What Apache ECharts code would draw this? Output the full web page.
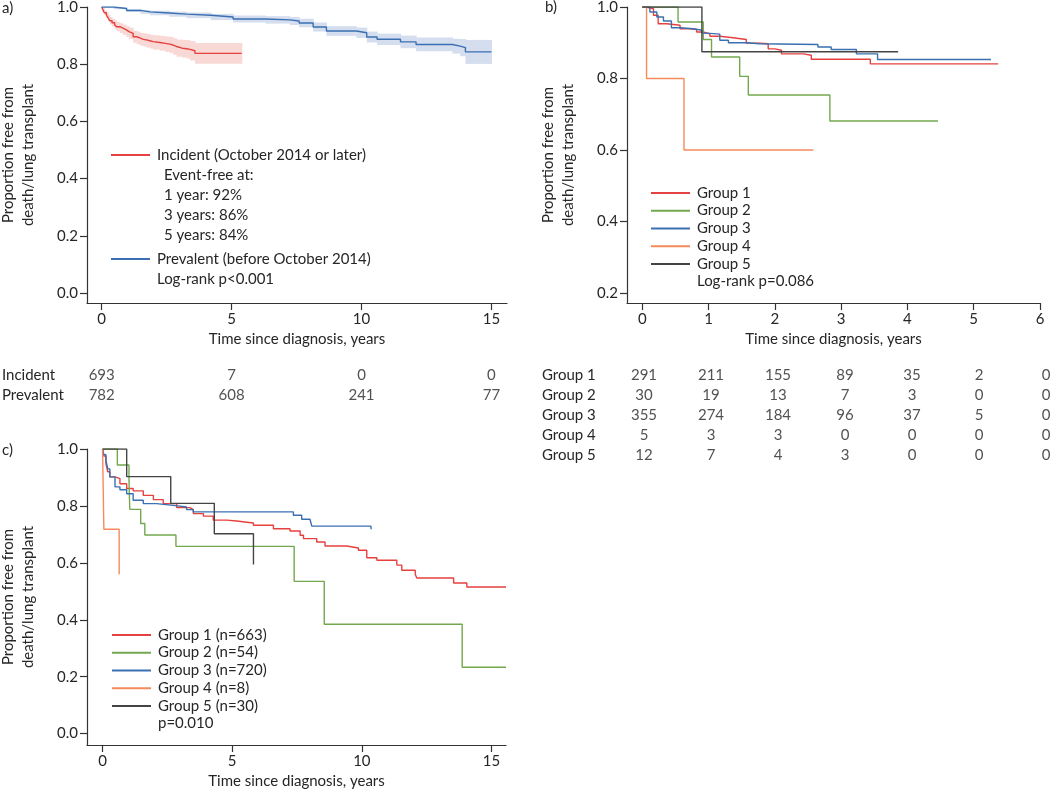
<!DOCTYPE html>
<html><head><meta charset="utf-8">
<script src="https://cdn.jsdelivr.net/npm/echarts@6/dist/echarts.min.js"></script>
<style>html,body{margin:0;padding:0;background:#fff}#c{width:1050px;height:792px}</style>
</head><body><div id="c"></div>
<script>
// ---------- Panel a: incident vs prevalent ----------
var incT  = [0, 0.05, 0.1, 0.18, 0.25, 0.31, 0.4, 0.5, 0.57, 0.7, 0.82, 0.95, 1.05, 1.21, 1.35, 1.47, 1.6, 1.72, 1.85, 1.98, 2.24, 2.45, 2.62, 2.75, 2.88, 3.1, 3.27, 3.4, 3.59, 5.39];
var incS  = [1.0, 0.99, 0.98, 0.972, 0.962, 0.952, 0.945, 0.938, 0.931, 0.926, 0.92, 0.914, 0.908, 0.896, 0.892, 0.887, 0.885, 0.882, 0.879, 0.876, 0.873, 0.87, 0.867, 0.862, 0.856, 0.854, 0.852, 0.847, 0.838, 0.838];
var incLo = [1.0, 0.984, 0.972, 0.962, 0.95, 0.939, 0.931, 0.923, 0.915, 0.909, 0.902, 0.895, 0.888, 0.875, 0.87, 0.865, 0.862, 0.858, 0.855, 0.851, 0.847, 0.843, 0.839, 0.833, 0.826, 0.823, 0.82, 0.813, 0.802, 0.802];
var incHi = [1.0, 0.996, 0.988, 0.982, 0.974, 0.965, 0.959, 0.953, 0.947, 0.943, 0.938, 0.933, 0.928, 0.917, 0.914, 0.909, 0.908, 0.906, 0.903, 0.901, 0.899, 0.897, 0.895, 0.891, 0.886, 0.885, 0.884, 0.881, 0.874, 0.874];

var prevT  = [0, 0.45, 0.96, 1.5, 1.86, 2.6, 3.27, 4.2, 5.06, 6.3, 7.24, 7.6, 8.14, 8.65, 9.8, 10.2, 10.6, 11.5, 12.1, 13.5, 13.8, 14.0, 15.0];
var prevS  = [1.0, 0.995, 0.988, 0.983, 0.979, 0.975, 0.971, 0.965, 0.958, 0.955, 0.951, 0.944, 0.93, 0.916, 0.91, 0.895, 0.887, 0.878, 0.869, 0.863, 0.858, 0.843, 0.843];
var prevLo = [1.0, 0.992, 0.983, 0.976, 0.971, 0.966, 0.961, 0.954, 0.946, 0.942, 0.937, 0.929, 0.914, 0.899, 0.892, 0.876, 0.867, 0.856, 0.845, 0.837, 0.828, 0.801, 0.801];
var prevHi = [1.0, 0.998, 0.993, 0.99, 0.987, 0.984, 0.981, 0.976, 0.97, 0.968, 0.965, 0.959, 0.946, 0.933, 0.928, 0.914, 0.907, 0.9, 0.893, 0.889, 0.888, 0.885, 0.885];

// ---------- Panel b: incident patients by group ----------
var b1T = [0, 0.06, 0.17, 0.24, 0.37, 0.47, 0.57, 0.72, 0.82, 0.92, 1.02, 1.17, 1.37, 1.57, 1.77, 1.9, 2.0, 2.1, 2.43, 2.55, 3.44, 5.37];
var b1S = [1.0, 0.995, 0.977, 0.953, 0.951, 0.949, 0.939, 0.937, 0.93, 0.925, 0.918, 0.914, 0.909, 0.899, 0.897, 0.883, 0.879, 0.869, 0.865, 0.854, 0.841, 0.841];
var b2T = [0, 0.54, 0.92, 1.045, 1.47, 1.6, 2.83, 4.46];
var b2S = [1.0, 0.958, 0.909, 0.86, 0.806, 0.754, 0.681, 0.681];
var b3T = [0, 0.115, 0.22, 0.32, 0.44, 0.57, 0.77, 0.9, 0.97, 1.17, 1.3, 1.57, 1.77, 2.65, 2.85, 3.23, 3.55, 5.26];
var b3S = [1.0, 0.986, 0.972, 0.961, 0.942, 0.939, 0.935, 0.927, 0.924, 0.907, 0.9, 0.897, 0.895, 0.888, 0.881, 0.869, 0.853, 0.853];
var b4T = [0, 0.065, 0.63, 2.58];
var b4S = [1.0, 0.8, 0.6, 0.6];
var b5T = [0, 0.9, 3.86];
var b5S = [1.0, 0.875, 0.875];

// ---------- Panel c: all patients by group ----------
var c1T = [0, 0.05, 0.13, 0.2, 0.28, 0.48, 0.67, 0.93, 1.18, 1.57, 1.96, 2.34, 2.86, 3.37, 3.5, 3.89, 4.27, 4.79, 5.17, 5.82, 6.59, 7.23, 7.62, 7.75, 8.26, 8.58, 9.42, 9.87, 10.19, 10.58, 11.35, 11.54, 12.06, 12.12, 13.54, 14.05, 15.56];
var c1S = [1.0, 0.975, 0.949, 0.92, 0.902, 0.896, 0.878, 0.861, 0.853, 0.837, 0.822, 0.808, 0.794, 0.787, 0.773, 0.764, 0.75, 0.747, 0.74, 0.732, 0.72, 0.712, 0.697, 0.685, 0.673, 0.659, 0.652, 0.644, 0.618, 0.609, 0.592, 0.574, 0.56, 0.547, 0.529, 0.515, 0.515];
var c2T = [0, 0.57, 1.02, 1.05, 1.47, 1.63, 2.83, 7.39, 8.55, 13.87, 15.56];
var c2S = [1.0, 0.944, 0.888, 0.788, 0.738, 0.698, 0.658, 0.535, 0.384, 0.233, 0.233];
var c3T = [0, 0.05, 0.13, 0.2, 0.28, 0.48, 0.67, 0.93, 1.18, 1.57, 2.08, 2.73, 3.24, 3.5, 7.36, 7.68, 8.0, 8.07, 10.35, 10.36];
var c3S = [1.0, 0.98, 0.96, 0.93, 0.902, 0.867, 0.857, 0.843, 0.82, 0.808, 0.802, 0.796, 0.787, 0.779, 0.767, 0.753, 0.747, 0.729, 0.729, 0.718];
var c4T = [0, 0.05, 0.64];
var c4S = [1.0, 0.718, 0.56];
var c5T = [0, 0.93, 2.63, 4.31, 5.82];
var c5S = [1.0, 0.903, 0.809, 0.702, 0.594];

// ---------- Names, ticks, risk tables ----------
var aNames = ['Incident (October 2014 or later)', 'Prevalent (before October 2014)'];
var bNames = ['Group 1', 'Group 2', 'Group 3', 'Group 4', 'Group 5'];
var cNames = ['Group 1 (n=663)', 'Group 2 (n=54)', 'Group 3 (n=720)', 'Group 4 (n=8)', 'Group 5 (n=30)'];
var aXTicks = [0, 5, 10, 15];
var bXTicks = [0, 1, 2, 3, 4, 5, 6];
var aYTicks = [0, 0.2, 0.4, 0.6, 0.8, 1.0];
var bYTicks = [0.2, 0.4, 0.6, 0.8, 1.0];
var aRiskRows = ['Incident', 'Prevalent'];
var aRiskInc  = [693, 7, 0, 0];
var aRiskPrev = [782, 608, 241, 77];
var bRiskRows = ['Group 1', 'Group 2', 'Group 3', 'Group 4', 'Group 5'];
var bRisk1 = [291, 211, 155, 89, 35, 2, 0];
var bRisk2 = [30, 19, 13, 7, 3, 0, 0];
var bRisk3 = [355, 274, 184, 96, 37, 5, 0];
var bRisk4 = [5, 3, 3, 0, 0, 0, 0];
var bRisk5 = [12, 7, 4, 3, 0, 0, 0];
var aNotes = ['Event-free at:', '1 year: 92%', '3 years: 86%', '5 years: 84%'];

var RED = '#e5413e', GREEN = '#73a84e', BLUE = '#3a70b2', ORANGE = '#f68a5c', BLACK = '#444444';
var PINK = '#f8d9d6', LBLUE = '#d5deee';
var FONT = 'Lato', FS = 15, TXT = '#262626', AX = '#333333';

function pts(T, S) { return T.map(function (t, i) { return [t, S[i]]; }); }
function km(name, T, S, idx, color) {
  return { type: 'line', name: name, xAxisIndex: idx, yAxisIndex: idx, step: 'end', symbol: 'none',
    data: pts(T, S), lineStyle: { color: color, width: 1.4 }, itemStyle: { color: color }, z: 3, silent: true };
}
// stepped confidence band: one rectangle per step interval [t_i, t_i+1] x [lo_i, hi_i]
function band(T, lo, hi, color) {
  var d = [];
  for (var i = 0; i < T.length - 1; i++) d.push([T[i], T[i + 1], lo[i], hi[i]]);
  return { type: 'custom', xAxisIndex: 0, yAxisIndex: 0, silent: true, z: 1, data: d,
    renderItem: function (params, api) {
      var p1 = api.coord([api.value(0), api.value(3)]);
      var p2 = api.coord([api.value(1), api.value(2)]);
      return { type: 'rect', shape: { x: p1[0], y: p1[1], width: p2[0] - p1[0] + 0.6, height: p2[1] - p1[1] },
        style: { fill: color } };
    } };
}
function xAx(idx, min, max, ticks, named) {
  return { type: 'value', gridIndex: idx, min: min, max: max,
    name: named ? 'Time since diagnosis, years' : '', nameLocation: 'middle', nameGap: 29,
    nameTextStyle: { fontFamily: FONT, fontSize: FS, color: TXT },
    axisLine: { show: true, onZero: false, lineStyle: { color: AX, width: 1.2 } },
    axisTick: { show: true, length: 7, customValues: ticks, lineStyle: { color: AX, width: 1.2 } },
    axisLabel: { customValues: ticks, margin: 9, fontFamily: FONT, fontSize: FS, color: TXT },
    splitLine: { show: false } };
}
function yAx(idx, min, max, ticks) {
  return { type: 'value', gridIndex: idx, min: min, max: max,
    name: 'Proportion free from\ndeath/lung transplant', nameLocation: 'middle', nameRotate: 90, nameGap: 49,
    nameTextStyle: { fontFamily: FONT, fontSize: FS, color: TXT, lineHeight: 20 },
    axisLine: { show: true, onZero: false, lineStyle: { color: AX, width: 1.2 } },
    axisTick: { show: true, length: 7, customValues: ticks, lineStyle: { color: AX, width: 1.2 } },
    axisLabel: { customValues: ticks, margin: 9, fontFamily: FONT, fontSize: FS, color: TXT,
      formatter: function (v) { return v.toFixed(1); } },
    splitLine: { show: false } };
}
function riskX(idx, min, max) {
  return { type: 'value', gridIndex: idx, min: min, max: max, show: false };
}
function riskY(idx, rows) {
  return { type: 'category', gridIndex: idx, data: rows, inverse: true,
    axisLine: { show: false }, axisTick: { show: false }, splitLine: { show: false },
    axisLabel: { align: 'left', margin: 85, fontFamily: FONT, fontSize: FS, color: TXT } };
}
function riskSeries(idx, ticks, rows, counts) {
  var d = [];
  rows.forEach(function (r, ri) { ticks.forEach(function (t, k) { d.push([t, r, counts[ri][k]]); }); });
  return { type: 'scatter', xAxisIndex: idx, yAxisIndex: idx, symbolSize: 1, silent: true,
    itemStyle: { color: 'rgba(0,0,0,0)' }, data: d,
    label: { show: true, position: 'inside', formatter: function (p) { return String(p.value[2]); },
      fontFamily: FONT, fontSize: FS, color: TXT } };
}
function txt(x, y, s) {
  return { type: 'text', x: x, y: y, silent: true,
    style: { text: s, fontFamily: FONT, fontSize: FS, fill: TXT, verticalAlign: 'middle', align: 'left' } };
}
function leg(names, left, top, pitch) {
  return { data: names, left: left, top: top, orient: 'vertical', padding: 0, itemGap: 0,
    icon: 'rect', itemWidth: 39, itemHeight: 2, selectedMode: false,
    textStyle: { fontFamily: FONT, fontSize: FS, color: TXT, lineHeight: pitch, padding: [0, 0, 0, 2] } };
}
function grid(l, t, w, h) {
  return { left: l, top: t, width: w, height: h, containLabel: false, outerBoundsMode: 'none' };
}

var series = [].concat(
  [band(prevT, prevLo, prevHi, LBLUE), band(incT, incLo, incHi, PINK),
   km(aNames[0], incT, incS, 0, RED), km(aNames[1], prevT, prevS, 0, BLUE),
   km(bNames[0], b1T, b1S, 1, RED), km(bNames[1], b2T, b2S, 1, GREEN), km(bNames[2], b3T, b3S, 1, BLUE),
   km(bNames[3], b4T, b4S, 1, ORANGE), km(bNames[4], b5T, b5S, 1, BLACK),
   km(cNames[0], c1T, c1S, 2, RED), km(cNames[1], c2T, c2S, 2, GREEN), km(cNames[2], c3T, c3S, 2, BLUE),
   km(cNames[3], c4T, c4S, 2, ORANGE), km(cNames[4], c5T, c5S, 2, BLACK),
   riskSeries(3, aXTicks, aRiskRows, [aRiskInc, aRiskPrev]),
   riskSeries(4, bXTicks, bRiskRows, [bRisk1, bRisk2, bRisk3, bRisk4, bRisk5])]
);

var option = {
  animation: false,
  backgroundColor: '#ffffff',
  textStyle: { fontFamily: FONT },
  grid: [grid(87, 7, 420, 296), grid(627, 7, 413, 296), grid(87, 449, 419, 296),
         grid(87, 365, 420, 40), grid(627, 365, 423, 100)],
  xAxis: [xAx(0, -0.565, 15.6, aXTicks, true), xAx(1, -0.23, 6, bXTicks, true), xAx(2, -0.6, 15.56, aXTicks, true),
          riskX(3, -0.565, 15.6), riskX(4, -0.254, 6.06)],
  yAxis: [yAx(0, -0.035, 1.0, aYTicks), yAx(1, 0.172, 1.0, bYTicks), yAx(2, -0.04, 1.0, aYTicks),
          riskY(3, aRiskRows), riskY(4, bRiskRows)],
  legend: [leg([aNames[0]], 111, 145, 20), leg([aNames[1]], 111, 249, 20),
           leg(bNames, 651, 184, 17.75), leg(cNames, 112, 626, 17.75)],
  graphic: [
    txt(2, 8, 'a)'), txt(545, 7, 'b)'), txt(2, 450, 'c)'),
    txt(164, 175, aNotes[0]), txt(164, 195, aNotes[1]), txt(164, 215, aNotes[2]), txt(164, 235, aNotes[3]),
    txt(157, 279, 'Log-rank p<0.001'), txt(697, 281, 'Log-rank p=0.086'), txt(158, 723, 'p=0.010')
  ],
  series: series
};
var chart = echarts.init(document.getElementById('c'), null, { renderer: 'canvas' });
chart.setOption(option);
</script></body></html>
